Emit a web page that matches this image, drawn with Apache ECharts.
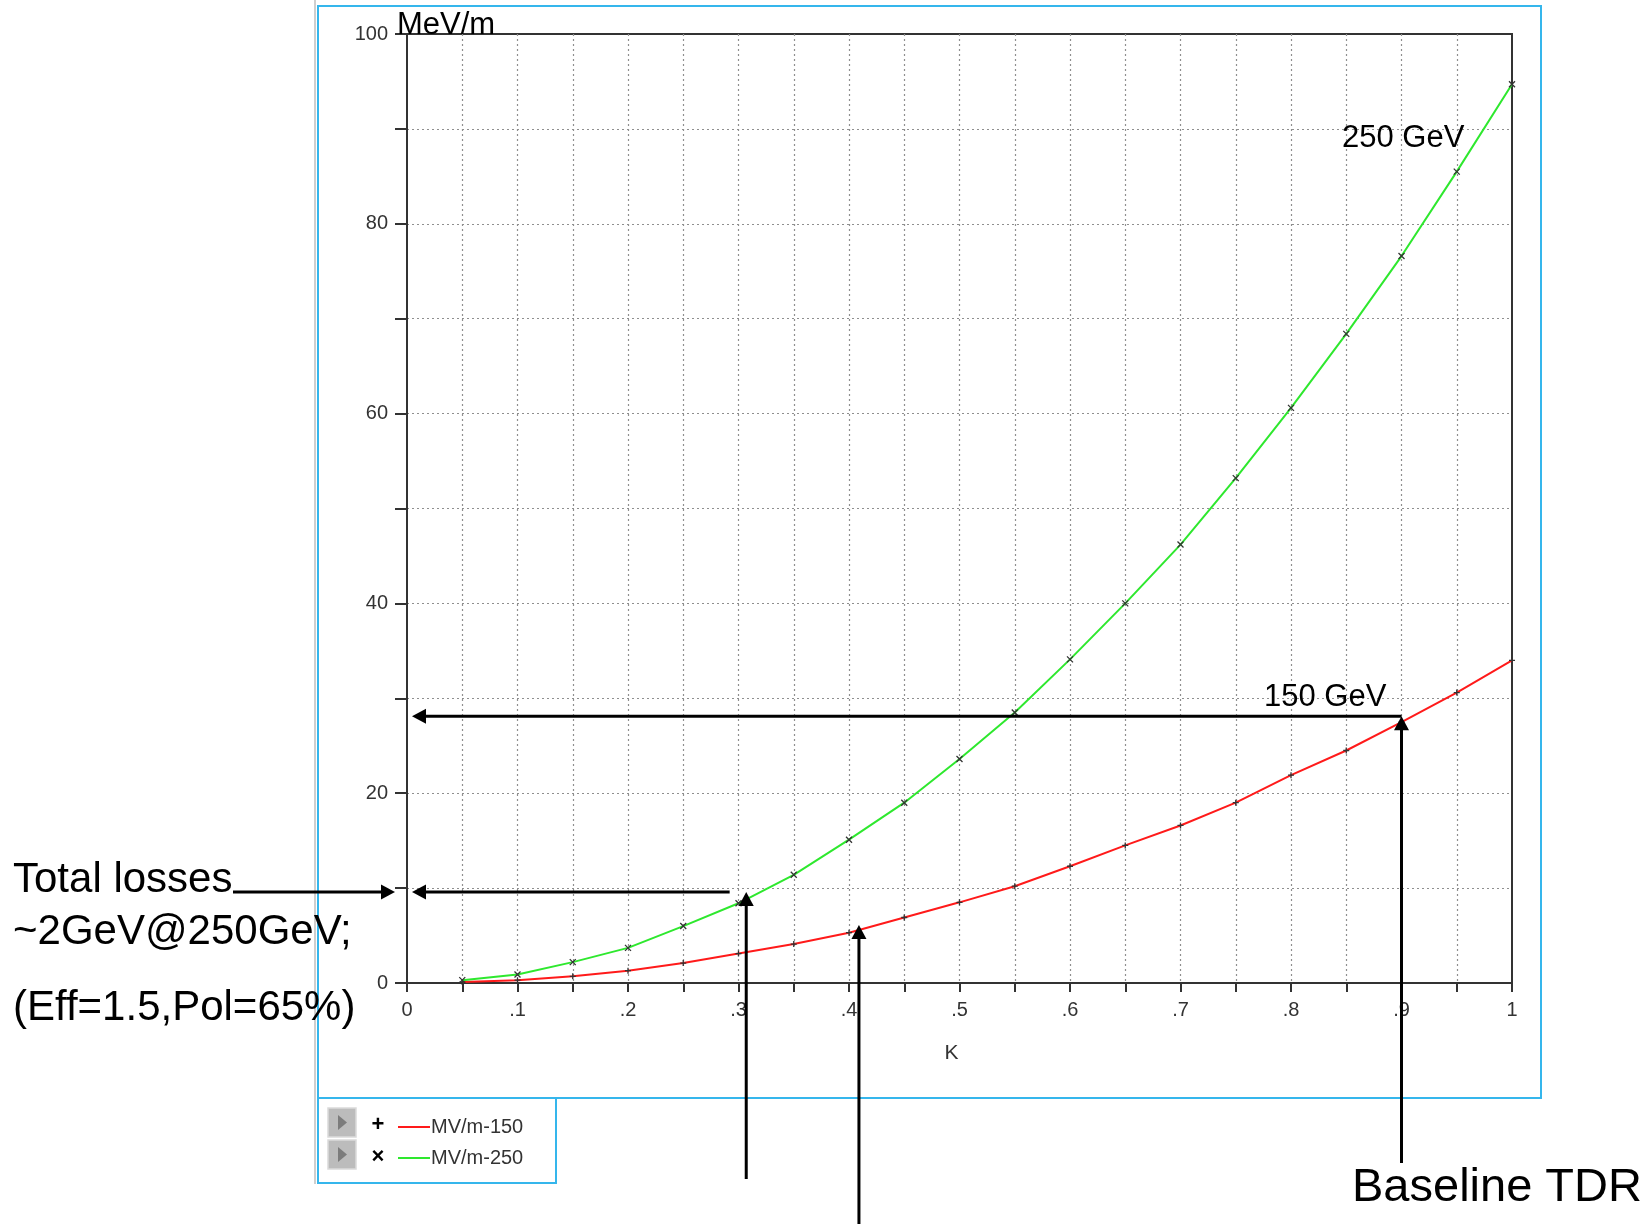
<!DOCTYPE html>
<html><head><meta charset="utf-8">
<script src="https://cdn.jsdelivr.net/npm/echarts@6/dist/echarts.min.js"></script>
<style>html,body{margin:0;padding:0;background:#fff}#c{width:1651px;height:1224px}</style>
</head><body><div id="c"></div>
<script>
// ---- data ----
const kValues = [0.05,0.10,0.15,0.20,0.25,0.30,0.35,0.40,0.45,0.50,0.55,0.60,0.65,0.70,0.75,0.80,0.85,0.90,0.95,1.00];
const mvm150 = [0.1,0.3,0.7,1.3,2.1,3.1,4.1,5.3,6.9,8.5,10.2,12.3,14.5,16.6,19.0,21.9,24.5,27.5,30.6,34.0];
const mvm250 = [0.3,0.9,2.2,3.7,6.0,8.4,11.4,15.1,19.0,23.6,28.5,34.1,40.0,46.2,53.2,60.6,68.4,76.6,85.5,94.7];
const seriesNames = ['MV/m-150','MV/m-250'];
const xTickLabels = ['0','.1','.2','.3','.4','.5','.6','.7','.8','.9','1'];
const yTickLabels = ['0','20','40','60','80','100'];
// annotation anchors (data coords)
const baselineK = 0.9, baselineGrad = 28.1;
const lossK = 0.307, lossGrad = 9.6, lossLeftEndK = 0.292;
const altK = 0.409, altGrad = 6.1;

const FONT = '"Liberation Sans", Arial, sans-serif';
const RED = '#ff1a1a', GREEN = '#2ee82e';
const chart = echarts.init(document.getElementById('c'), null, {renderer:'canvas'});

const plusPath = 'path://M5,0L5,10M0,5L10,5';
const crossPath = 'path://M0,0L10,10M10,0L0,10';

chart.setOption({
  animation:false,
  backgroundColor:'#fff',
  grid:{left:407, top:34, width:1105, height:949, show:true, borderColor:'#333', borderWidth:2, backgroundColor:'transparent'},
  xAxis:{type:'value', min:0, max:1, interval:0.05,
    name:'K', nameLocation:'middle', nameGap:60,
    nameTextStyle:{fontFamily:FONT, fontSize:21, color:'#333', padding:[0,16,0,0]},
    axisLine:{lineStyle:{color:'#333', width:2}},
    axisTick:{length:9, lineStyle:{color:'#333', width:2}},
    axisLabel:{fontFamily:FONT, fontSize:20, color:'#333', margin:17,
      formatter:v=>{const r=Math.round(v*100); return r%10? '' : xTickLabels[r/10];}},
    splitLine:{show:true, showMinLine:false, showMaxLine:false, lineStyle:{type:[2,3], color:'#8f8f8f', width:1.2}}
  },
  yAxis:{type:'value', min:0, max:100, interval:10,
    axisLine:{lineStyle:{color:'#333', width:2}},
    axisTick:{length:12, lineStyle:{color:'#333', width:2}},
    axisLabel:{fontFamily:FONT, fontSize:20, color:'#333', margin:19,
      formatter:v=>{const r=Math.round(v); return r%20? '' : yTickLabels[r/20];}},
    splitLine:{show:true, showMinLine:false, showMaxLine:false, lineStyle:{type:[2,3], color:'#8f8f8f', width:1.2}}
  },
  legend:{show:true, orient:'vertical', left:393, top:1112, itemGap:11, itemWidth:32, itemHeight:2,
    textStyle:{fontFamily:FONT, fontSize:20, color:'#333', padding:[0,0,0,-4]},
    data:[{name:seriesNames[0], icon:'rect', itemStyle:{color:RED, borderColor:RED, borderWidth:0}},
          {name:seriesNames[1], icon:'rect', itemStyle:{color:GREEN, borderColor:GREEN, borderWidth:0}}],
    selectedMode:false},
  series:[
    {name:seriesNames[0], type:'line', data:kValues.map((k,i)=>[k,mvm150[i]]),
     symbol:plusPath, symbolSize:6, showSymbol:true,
     lineStyle:{color:RED, width:2},
     itemStyle:{color:'#333', borderColor:'#333', borderWidth:1.3}, z:3},
    {name:seriesNames[1], type:'line', data:kValues.map((k,i)=>[k,mvm250[i]]),
     symbol:crossPath, symbolSize:6, showSymbol:true,
     lineStyle:{color:GREEN, width:2},
     itemStyle:{color:'#333', borderColor:'#333', borderWidth:1.3}, z:3}
  ]
});

const px = (x,y)=>chart.convertToPixel({gridIndex:0},[x,y]);
function arrow(x1,y1,x2,y2){
  const dx=x2-x1, dy=y2-y1, L=Math.hypot(dx,dy), ux=dx/L, uy=dy/L;
  const hl=14, hw=7.5;
  const bx=x2-ux*hl, by=y2-uy*hl;
  return [
    {type:'line', shape:{x1:x1,y1:y1,x2:bx+ux*1,y2:by+uy*1}, style:{stroke:'#000', lineWidth:3}, z:50},
    {type:'polygon', shape:{points:[[x2,y2],[bx-uy*hw,by+ux*hw],[bx+uy*hw,by-ux*hw]]}, style:{fill:'#000'}, z:50}
  ];
}
function txt(s,x,y,size,align){
  return {type:'text', x:x, y:y, z:60, style:{text:s, fontFamily:FONT, fontSize:size, fill:'#000', align:align||'left', verticalAlign:'middle'}};
}

const axisX = px(0,0)[0];
const pBase = px(baselineK, baselineGrad);
const pLoss = px(lossK, lossGrad);
const pLossL = px(lossLeftEndK, lossGrad);
const pAlt = px(altK, altGrad);

const g = [];
// outer frames
g.push({type:'line', shape:{x1:315,y1:0,x2:315,y2:1184}, style:{stroke:'#cfcfcf', lineWidth:2}, z:1});
g.push({type:'rect', shape:{x:318,y:6,width:1223,height:1092}, style:{fill:'none', stroke:'#35b6ec', lineWidth:2}, z:1});
g.push({type:'rect', shape:{x:318,y:1098,width:238,height:85}, style:{fill:'none', stroke:'#35b6ec', lineWidth:2}, z:1});
// legend buttons & symbols
[1108,1140].forEach(y=>{
  g.push({type:'rect', shape:{x:328,y:y,width:28,height:29}, style:{fill:'#bcbcbc', stroke:'#dadada', lineWidth:1.5}, z:5});
  g.push({type:'polygon', shape:{points:[[338,y+7],[338,y+22],[347,y+14.5]]}, style:{fill:'#7c7c7c'}, z:6});
});
g.push({type:'text', x:378, y:1125, z:6, style:{text:'+', fontFamily:FONT, fontSize:22, fontWeight:'bold', fill:'#000', align:'center', verticalAlign:'middle'}});
g.push({type:'text', x:378, y:1157, z:6, style:{text:'×', fontFamily:FONT, fontSize:22, fontWeight:'bold', fill:'#000', align:'center', verticalAlign:'middle'}});
// texts
g.push(txt('MeV/m', 397, 25, 31));
g.push(txt('250 GeV', 1342, 138, 31));
g.push(txt('150 GeV', 1264, 697, 31));
g.push(txt('Baseline TDR', 1352, 1188, 47));
g.push(txt('Total losses', 13, 880, 42));
g.push(txt('~2GeV@250GeV;', 13, 932, 42));
g.push(txt('(Eff=1.5,Pol=65%)', 13, 1008, 42));
// arrows
g.push(...arrow(pBase[0], 1163, pBase[0], pBase[1]));
g.push(...arrow(pBase[0], pBase[1], axisX+5, pBase[1]));
g.push(...arrow(pLoss[0], 1179, pLoss[0], pLoss[1]));
g.push(...arrow(pLossL[0], pLoss[1], axisX+5, pLoss[1]));
g.push(...arrow(233, pLoss[1], axisX-12, pLoss[1]));
g.push(...arrow(pAlt[0], 1224, pAlt[0], pAlt[1]));

chart.setOption({graphic:g});
</script>
</body></html>
